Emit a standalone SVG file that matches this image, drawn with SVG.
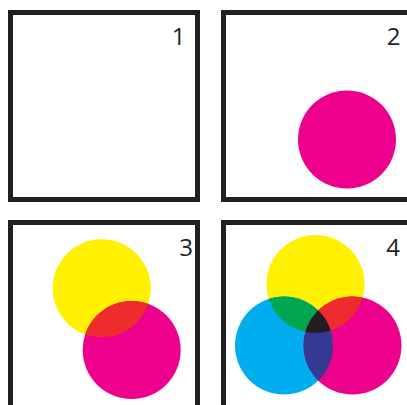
<svg xmlns="http://www.w3.org/2000/svg" width="407" height="405" viewBox="0 0 407 405">
<style>
.box{fill:#fff;stroke:#231f20;stroke-width:5}
.num{font-family:"Open Sans","Noto Sans","Liberation Sans",sans-serif;font-size:24px;fill:#231f20;text-anchor:middle}
.y{fill:#fff100}.m{fill:#ec008c}.c{fill:#00aeef}.r{fill:#ee2b2f}.g{fill:#00a651}.b{fill:#343a94}.k{fill:#231f20}
</style>
<defs>
<clipPath id="y3"><circle cx="101.7" cy="288.3" r="49"/></clipPath>
<clipPath id="y4"><circle cx="315.5" cy="284" r="49"/></clipPath>
<clipPath id="c4"><circle cx="284" cy="345.5" r="49"/></clipPath>
<clipPath id="m4"><circle cx="352.5" cy="345.5" r="49"/></clipPath>
</defs>
<rect width="407" height="405" fill="#fff"/>
<g id="panel1">
<rect class="box" x="10.5" y="12.5" width="187" height="187"/>
<text class="num" x="178.5" y="45">1</text>
</g>
<g id="panel2">
<rect class="box" x="223.5" y="12.5" width="200" height="187"/>
<circle class="m" cx="347" cy="139.5" r="49"/>
<text class="num" x="393.5" y="45">2</text>
</g>
<g id="panel3">
<rect class="box" x="10.5" y="222.5" width="187" height="200"/>
<circle class="y" cx="101.7" cy="288.3" r="49"/>
<circle class="m" cx="131.7" cy="350" r="49"/>
<circle class="r" cx="131.7" cy="350" r="49" clip-path="url(#y3)"/>
<text class="num" x="186" y="256">3</text>
</g>
<g id="panel4">
<rect class="box" x="223.5" y="222.5" width="200" height="200"/>
<circle class="y" cx="315.5" cy="284" r="49"/>
<circle class="c" cx="284" cy="345.5" r="49"/>
<circle class="m" cx="352.5" cy="345.5" r="49"/>
<circle class="g" cx="284" cy="345.5" r="49" clip-path="url(#y4)"/>
<circle class="r" cx="352.5" cy="345.5" r="49" clip-path="url(#y4)"/>
<circle class="b" cx="352.5" cy="345.5" r="49" clip-path="url(#c4)"/>
<g clip-path="url(#y4)"><circle class="k" cx="352.5" cy="345.5" r="49" clip-path="url(#c4)"/></g>
<text class="num" x="393" y="256">4</text>
</g>
</svg>
